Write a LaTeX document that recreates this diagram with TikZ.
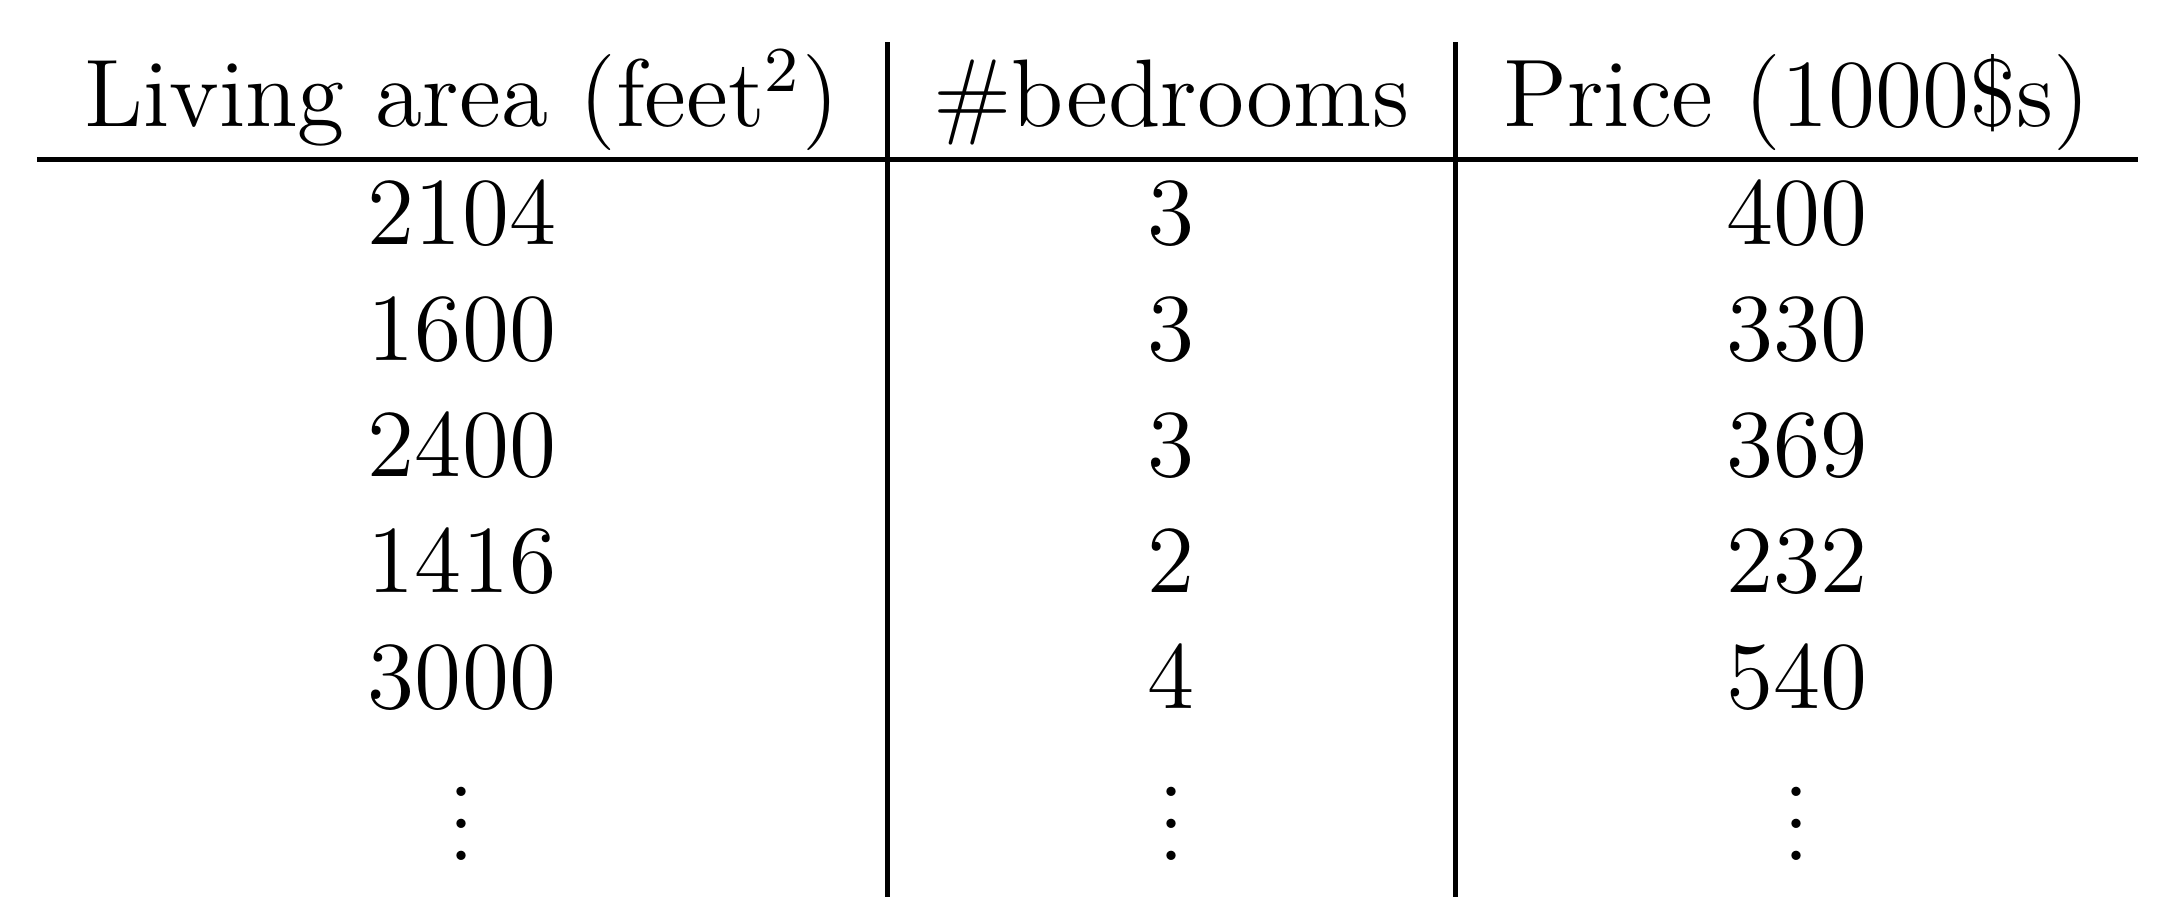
\documentclass[tikz,border=0pt]{standalone}
\begin{document}
\begin{tikzpicture}[x=1pt, y=-1pt,
    cell/.style={anchor=base, inner sep=0pt, font=\fontsize{12}{14.5}\selectfont},
    tabrule/.style={black, line width=0.6pt}]
    \useasboundingbox (0,0) rectangle (272.25,115.25);

    % header row
    \node[cell] (areahead) at (57.75,15.75) {Living area (feet$^2$)};
    \node[cell] (bedhead) at (146.4,15.75) {\#bedrooms};
    \node[cell] (pricehead) at (224.6,15.75) {Price (1000\$s)};

    % rule ends
    \coordinate (ruleW) at (4.6,19.95);
    \coordinate (ruleE) at (267.3,19.95);
    \coordinate (sepAtop) at (110.9,5.3);
    \coordinate (sepAbot) at (110.9,112.1);
    \coordinate (sepBtop) at (181.9,5.3);
    \coordinate (sepBbot) at (181.9,112.1);
    \draw[tabrule] (ruleW) -- (ruleE);
    \draw[tabrule] (sepAtop) -- (sepAbot);
    \draw[tabrule] (sepBtop) -- (sepBbot);

    % living area
    \node[cell] (area1) at (57.75,30.6) {2104};
    \node[cell] (area2) at (57.75,45.1) {1600};
    \node[cell] (area3) at (57.75,59.6) {2400};
    \node[cell] (area4) at (57.75,74.1) {1416};
    \node[cell] (area5) at (57.75,88.6) {3000};
    \node[cell] (areadots) at (57.75,107.5) {$\vdots$};

    % bedrooms
    \node[cell] (bed1) at (146.4,30.6) {3};
    \node[cell] (bed2) at (146.4,45.1) {3};
    \node[cell] (bed3) at (146.4,59.6) {3};
    \node[cell] (bed4) at (146.4,74.1) {2};
    \node[cell] (bed5) at (146.4,88.6) {4};
    \node[cell] (beddots) at (146.4,107.5) {$\vdots$};

    % price
    \node[cell] (price1) at (224.6,30.6) {400};
    \node[cell] (price2) at (224.6,45.1) {330};
    \node[cell] (price3) at (224.6,59.6) {369};
    \node[cell] (price4) at (224.6,74.1) {232};
    \node[cell] (price5) at (224.6,88.6) {540};
    \node[cell] (pricedots) at (224.6,107.5) {$\vdots$};
\end{tikzpicture}
\end{document}
